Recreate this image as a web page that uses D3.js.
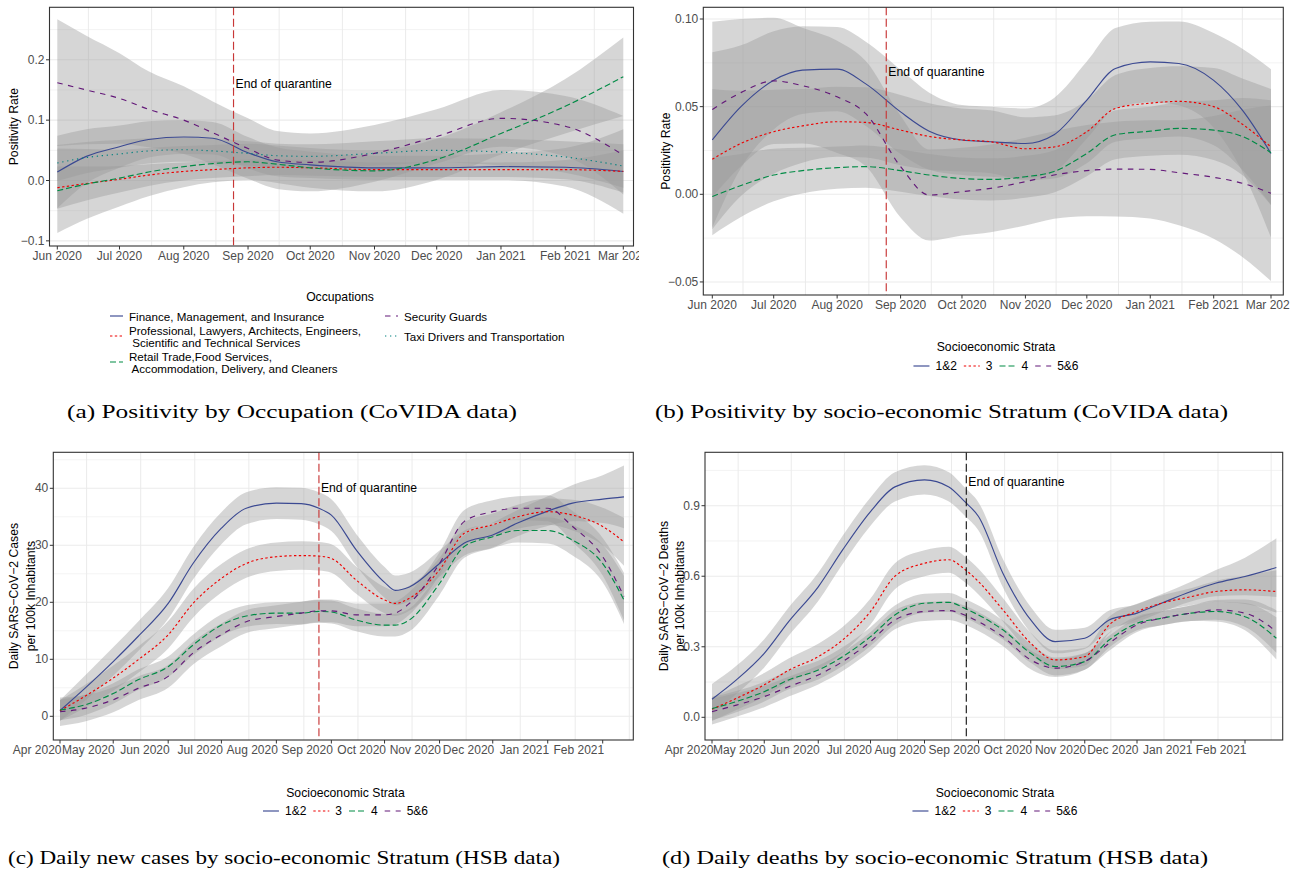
<!DOCTYPE html>
<html>
<head>
<meta charset="utf-8">
<script src="https://cdn.jsdelivr.net/npm/d3@7/dist/d3.min.js"></script>
<style>
  body { margin: 0; background: #fff; }
  text { font-family: "Liberation Sans", Arial, sans-serif; }
  .cap { font-family: "Liberation Serif", "DejaVu Serif", serif; }
</style>
</head>
<body>
<svg id="fig" width="1304" height="872"></svg>
<script>
const parseDay = d3.timeParse("%Y-%m-%d");
const quarantineEnd = "2020-08-25";

////////// (a) positivity by occupation //////////
const occDates = ["2020-06-01","2020-06-15","2020-07-01","2020-07-15","2020-08-01","2020-08-15","2020-09-01",
    "2020-09-15","2020-10-01","2020-11-01","2020-12-01","2021-01-01","2021-02-01","2021-03-01"];
const financeFit = [0.014, 0.040, 0.056, 0.068, 0.072, 0.070, 0.046, 0.031, 0.026, 0.021, 0.021, 0.023, 0.022, 0.015];
const financeBand = [0.060, 0.045, 0.035, 0.030, 0.028, 0.027, 0.026, 0.024, 0.022, 0.020, 0.020, 0.022, 0.032, 0.070];
const professionalFit = [-0.012, -0.005, 0.002, 0.009, 0.015, 0.018, 0.021, 0.022, 0.021, 0.018, 0.018, 0.018, 0.018, 0.015];
const professionalBand = [0.035, 0.028, 0.022, 0.018, 0.015, 0.014, 0.014, 0.013, 0.013, 0.012, 0.012, 0.012, 0.016, 0.035];
const retailFit = [-0.017, -0.006, 0.004, 0.014, 0.023, 0.028, 0.031, 0.027, 0.021, 0.016, 0.035, 0.078, 0.123, 0.172];
const retailBand = [0.070, 0.058, 0.047, 0.040, 0.034, 0.031, 0.030, 0.031, 0.033, 0.034, 0.034, 0.035, 0.045, 0.065];
const securityFit = [0.162, 0.150, 0.136, 0.118, 0.100, 0.079, 0.053, 0.034, 0.030, 0.045, 0.073, 0.103, 0.090, 0.042];
const securityBand = [0.105, 0.090, 0.075, 0.063, 0.056, 0.052, 0.050, 0.048, 0.048, 0.047, 0.045, 0.047, 0.050, 0.065];
const taxiFit = [0.029, 0.038, 0.044, 0.049, 0.051, 0.049, 0.045, 0.041, 0.040, 0.045, 0.050, 0.047, 0.039, 0.024];
const taxiBand = [0.030, 0.026, 0.023, 0.021, 0.020, 0.020, 0.020, 0.020, 0.020, 0.020, 0.020, 0.022, 0.026, 0.036];
const occLabels = [
    ["Finance, Management, and Insurance"],
    ["Professional, Lawyers, Architects, Engineers,", " Scientific and Technical Services"],
    ["Retail Trade,Food Services,", " Accommodation, Delivery, and Cleaners"],
    ["Security Guards"],
    ["Taxi Drivers and Transportation"]
];
const covidaTicks = ["2020-06-01","2020-07-01","2020-08-01","2020-09-01","2020-10-01","2020-11-01",
    "2020-12-01","2021-01-01","2021-02-01","2021-03-01"];

////////// (b) positivity by stratum //////////
const posDates = ["2020-06-01","2020-06-15","2020-07-01","2020-07-15","2020-08-01","2020-08-15","2020-09-01",
    "2020-09-15","2020-10-01","2020-10-15","2020-11-01","2020-11-15","2020-12-01","2020-12-15","2021-01-01",
    "2021-01-15","2021-02-01","2021-02-15","2021-03-01"];
const pos12Fit = [0.031, 0.050, 0.065, 0.0708, 0.0714, 0.063, 0.047, 0.036, 0.031, 0.030, 0.029, 0.034, 0.0537, 0.0718, 0.0755, 0.0746, 0.065, 0.048, 0.0233];
const pos12Band = [0.050, 0.035, 0.028, 0.025, 0.024, 0.024, 0.024, 0.022, 0.020, 0.020, 0.020, 0.021, 0.022, 0.023, 0.023, 0.024, 0.027, 0.035, 0.048];
const pos3Fit = [0.020, 0.029, 0.0357, 0.039, 0.0414, 0.041, 0.0366, 0.033, 0.031, 0.030, 0.026, 0.027, 0.0357, 0.049, 0.052, 0.053, 0.050, 0.040, 0.027];
const pos3Band = [0.040, 0.030, 0.024, 0.021, 0.020, 0.020, 0.020, 0.019, 0.018, 0.018, 0.018, 0.018, 0.018, 0.019, 0.020, 0.020, 0.022, 0.026, 0.033];
const pos4Fit = [-0.0013, 0.005, 0.011, 0.0135, 0.0152, 0.0158, 0.0135, 0.011, 0.009, 0.0085, 0.010, 0.013, 0.0233, 0.034, 0.036, 0.0376, 0.0366, 0.033, 0.0237];
const pos4Band = [0.022, 0.018, 0.015, 0.013, 0.012, 0.012, 0.012, 0.012, 0.012, 0.012, 0.012, 0.012, 0.013, 0.014, 0.014, 0.015, 0.017, 0.022, 0.030];
const pos56Fit = [0.0484, 0.058, 0.0647, 0.062, 0.0556, 0.046, 0.0158, -0.0004, 0.0015, 0.0034, 0.0072, 0.011, 0.0135, 0.0144, 0.0142, 0.0123, 0.0097, 0.0063, 0.0006];
const pos56Band = [0.050, 0.042, 0.036, 0.033, 0.032, 0.030, 0.029, 0.026, 0.025, 0.025, 0.025, 0.025, 0.026, 0.027, 0.028, 0.030, 0.035, 0.042, 0.050];

////////// (c) daily cases by stratum //////////
const caseDates = ["2020-04-01","2020-04-15","2020-05-01","2020-05-15","2020-06-01","2020-06-15","2020-07-01",
    "2020-07-15","2020-08-01","2020-08-15","2020-08-25","2020-09-01","2020-09-15","2020-10-01","2020-10-07",
    "2020-10-15","2020-11-01","2020-11-15","2020-12-01","2020-12-15","2021-01-01","2021-01-15","2021-02-01","2021-02-13"];
const cases12Fit = [1.0, 4.9, 9.6, 14.0, 19.8, 26.8, 33.0, 36.5, 37.4, 37.3, 36.5, 35.3, 29.2, 23.5, 22.1, 22.7, 26.8, 30.4, 31.8, 33.9, 36.0, 37.4, 38.1, 38.5];
const cases12Band = [1.8, 2.2, 2.5, 2.6, 2.7, 2.8, 2.8, 2.8, 2.8, 2.8, 2.8, 2.8, 2.8, 2.7, 2.6, 2.5, 2.3, 2.2, 2.2, 2.3, 2.6, 3.2, 4.2, 5.5];
const cases3Fit = [1.0, 3.5, 6.7, 9.9, 14.3, 19.8, 24.2, 26.8, 28.0, 28.2, 28.1, 27.7, 23.9, 20.4, 19.8, 20.7, 25.7, 32.1, 33.6, 35.0, 35.9, 35.3, 33.3, 30.6];
const cases3Band = [1.8, 2.0, 2.2, 2.3, 2.4, 2.5, 2.5, 2.5, 2.5, 2.5, 2.5, 2.5, 2.4, 2.3, 2.2, 2.2, 2.1, 2.0, 2.0, 2.1, 2.3, 2.7, 3.3, 4.2];
const cases4Fit = [1.1, 2.0, 4.0, 6.4, 8.7, 12.5, 16.0, 17.6, 18.1, 18.1, 18.4, 18.3, 16.9, 16.0, 16.0, 16.9, 23.3, 29.8, 31.5, 32.6, 32.6, 30.9, 26.8, 20.4];
const cases4Band = [1.8, 1.8, 1.8, 1.8, 1.8, 1.8, 1.9, 1.9, 1.9, 2.0, 2.0, 2.0, 2.0, 2.0, 2.0, 2.0, 2.0, 2.0, 2.0, 2.1, 2.3, 2.7, 3.3, 4.2];
const cases56Fit = [0.8, 1.4, 2.9, 4.9, 7.0, 11.1, 14.3, 16.6, 17.5, 18.1, 18.5, 18.5, 17.8, 17.8, 18.1, 19.8, 26.8, 34.2, 35.9, 36.5, 36.5, 33.3, 28.0, 21.0];
const cases56Band = [2.5, 2.3, 2.2, 2.1, 2.0, 2.0, 2.0, 2.0, 2.0, 2.0, 2.0, 2.0, 2.0, 2.0, 2.0, 2.0, 2.0, 2.0, 2.0, 2.1, 2.3, 2.7, 3.3, 4.2];

////////// (d) daily deaths by stratum //////////
const deathDates = ["2020-04-01","2020-04-15","2020-05-01","2020-05-15","2020-06-01","2020-06-15","2020-07-01",
    "2020-07-15","2020-08-01","2020-08-15","2020-08-24","2020-09-01","2020-09-15","2020-10-01","2020-10-15",
    "2020-11-01","2020-11-15","2020-12-01","2020-12-15","2021-01-01","2021-01-15","2021-02-01","2021-02-19"];
const deaths12Fit = [0.077, 0.159, 0.272, 0.407, 0.555, 0.712, 0.875, 0.980, 1.010, 0.980, 0.918, 0.854, 0.613, 0.414, 0.322, 0.336, 0.414, 0.443, 0.485, 0.535, 0.570, 0.599, 0.637];
const deaths12Band = [0.065, 0.060, 0.060, 0.060, 0.060, 0.060, 0.060, 0.062, 0.062, 0.062, 0.060, 0.060, 0.060, 0.055, 0.050, 0.045, 0.040, 0.038, 0.038, 0.042, 0.055, 0.080, 0.125];
const deaths3Fit = [0.034, 0.081, 0.138, 0.200, 0.258, 0.329, 0.450, 0.600, 0.655, 0.670, 0.630, 0.577, 0.457, 0.315, 0.244, 0.258, 0.393, 0.450, 0.485, 0.513, 0.535, 0.542, 0.535];
const deaths3Band = [0.050, 0.050, 0.050, 0.050, 0.055, 0.055, 0.055, 0.055, 0.055, 0.055, 0.055, 0.055, 0.050, 0.045, 0.040, 0.038, 0.035, 0.033, 0.033, 0.036, 0.045, 0.060, 0.090];
const deaths4Fit = [0.037, 0.067, 0.109, 0.159, 0.201, 0.258, 0.343, 0.435, 0.485, 0.489, 0.464, 0.435, 0.372, 0.272, 0.216, 0.237, 0.329, 0.400, 0.421, 0.443, 0.450, 0.428, 0.336];
const deaths4Band = [0.050, 0.045, 0.042, 0.040, 0.040, 0.040, 0.040, 0.040, 0.040, 0.040, 0.040, 0.040, 0.040, 0.040, 0.038, 0.035, 0.032, 0.030, 0.030, 0.033, 0.042, 0.058, 0.090];
const deaths56Fit = [0.024, 0.052, 0.088, 0.130, 0.180, 0.237, 0.322, 0.414, 0.450, 0.454, 0.435, 0.407, 0.343, 0.244, 0.209, 0.237, 0.315, 0.393, 0.421, 0.443, 0.457, 0.443, 0.365];
const deaths56Band = [0.055, 0.050, 0.045, 0.042, 0.040, 0.040, 0.040, 0.040, 0.040, 0.040, 0.040, 0.040, 0.040, 0.040, 0.038, 0.035, 0.032, 0.030, 0.030, 0.033, 0.042, 0.058, 0.090];

const strataLabels = ["1&2", "3", "4", "5&6"];
const hsbTicks = ["2020-04-01","2020-05-01","2020-06-01","2020-07-01","2020-08-01","2020-09-01","2020-10-01",
    "2020-11-01","2020-12-01","2021-01-01","2021-02-01"];

const palette = ["#3B4992", "#EE0000", "#008B45", "#631879", "#008280"];
const dashes = [null, "2.4,2.4", "6,3", "5.5,5.5", "1.3,3.7"];

const svg = d3.select("#fig");
const fmtMonth = d3.timeFormat("%b %Y");

function drawPanel(p) {
    const g = svg.append("g");
    if (p.clip) {
        svg.append("clipPath").attr("id", "clip" + p.id)
            .append("rect")
            .attr("x", p.clip[0]).attr("y", p.clip[1])
            .attr("width", p.clip[2]).attr("height", p.clip[3]);
        g.attr("clip-path", "url(#clip" + p.id + ")");
    }
    const [fx0, fx1, fy0, fy1] = p.frame;
    const ticks = p.ticks.map(parseDay);
    const x = d3.scaleTime()
        .domain([ticks[0], ticks[ticks.length - 1]])
        .range(p.tickPx);
    const y = d3.scaleLinear().domain(p.yRef).range(p.yPx);

    // grid: horizontal major + minor, vertical only at mid-month
    const grid = g.append("g").attr("stroke", "#ebebeb");
    grid.selectAll(".hmin").data(p.yMinor).join("line")
        .attr("x1", fx0).attr("x2", fx1).attr("y1", y).attr("y2", y)
        .attr("stroke-width", 0.6);
    grid.selectAll(".hmaj").data(p.yMajor).join("line")
        .attr("x1", fx0).attr("x2", fx1).attr("y1", y).attr("y2", y)
        .attr("stroke-width", 1.1);
    const step = (+ticks[1] - +ticks[0]) / 2;
    let mids = [];
    for (let i = 0; i < ticks.length - 1; i++) mids.push(new Date((+ticks[i] + +ticks[i + 1]) / 2));
    mids.push(new Date(+ticks[ticks.length - 1] + step));
    mids = mids.filter(d => x(d) > fx0 && x(d) < fx1);
    grid.selectAll(".vmin").data(mids).join("line")
        .attr("x1", x).attr("x2", x).attr("y1", fy0).attr("y2", fy1)
        .attr("stroke-width", 1.0);

    // smooth ribbons
    const dates = p.dates.map(parseDay);
    p.series.forEach(s => {
        const rows = dates.map((d, i) => ({d: d, fit: s.fit[i], lo: s.fit[i] - s.band[i], hi: s.fit[i] + s.band[i]}));
        g.append("path")
            .datum(rows)
            .attr("fill", "#999999")
            .attr("fill-opacity", 0.4)
            .attr("d", d3.area()
                .curve(d3.curveMonotoneX)
                .x(r => x(r.d)).y0(r => y(r.lo)).y1(r => y(r.hi)));
    });
    p.series.forEach(s => {
        const rows = dates.map((d, i) => ({d: d, fit: s.fit[i]}));
        g.append("path")
            .datum(rows)
            .attr("fill", "none")
            .attr("stroke", palette[s.k])
            .attr("stroke-width", 1.15)
            .attr("stroke-dasharray", dashes[s.k])
            .attr("d", d3.line()
                .curve(d3.curveMonotoneX)
                .x(r => x(r.d)).y(r => y(r.fit)));
    });

    // end of quarantine
    const q = parseDay(quarantineEnd);
    g.append("line")
        .attr("x1", x(q)).attr("x2", x(q)).attr("y1", fy0).attr("y2", fy1)
        .attr("stroke", p.vColor)
        .attr("stroke-width", 1.15)
        .attr("stroke-dasharray", "8,3.5");
    g.append("text")
        .attr("x", x(q) + 2)
        .attr("y", y(p.noteY))
        .attr("dominant-baseline", "central")
        .attr("font-size", 12.2)
        .attr("fill", "#000")
        .text("End of quarantine");

    // frame
    g.append("rect")
        .attr("x", fx0).attr("y", fy0)
        .attr("width", fx1 - fx0).attr("height", fy1 - fy0)
        .attr("fill", "none")
        .attr("stroke", "#333333")
        .attr("stroke-width", 1.1);

    // x axis
    g.selectAll(".xt").data(ticks).join("line")
        .attr("x1", x).attr("x2", x).attr("y1", fy1).attr("y2", fy1 + 3.5)
        .attr("stroke", "#333333").attr("stroke-width", 1);
    g.selectAll(".xl").data(ticks).join("text")
        .attr("x", d => x(d) + (p.xAnchor === "end" ? 1.5 : 0))
        .attr("y", fy1 + 9.5)
        .attr("text-anchor", p.xAnchor)
        .attr("dominant-baseline", "central")
        .attr("font-size", 12)
        .attr("fill", "#4d4d4d")
        .text(fmtMonth);

    // y axis
    const fmtY = d3.format(p.yFmt);
    g.selectAll(".yt").data(p.yMajor).join("line")
        .attr("x1", fx0 - 3.5).attr("x2", fx0).attr("y1", y).attr("y2", y)
        .attr("stroke", "#333333").attr("stroke-width", 1);
    g.selectAll(".yl").data(p.yMajor).join("text")
        .attr("x", fx0 - 5)
        .attr("y", y)
        .attr("text-anchor", "end")
        .attr("dominant-baseline", "central")
        .attr("font-size", 12)
        .attr("fill", "#4d4d4d")
        .text(fmtY);

    const cy = (fy0 + fy1) / 2;
    p.ylab.forEach((t, i) => {
        g.append("text")
            .attr("transform", "translate(" + p.ylabX[i] + "," + cy + ") rotate(-90)")
            .attr("text-anchor", "middle")
            .attr("dominant-baseline", "central")
            .attr("font-size", 12.2)
            .attr("fill", "#000")
            .text(t);
    });
}

function keyLine(g, k, x0, x1, yy) {
    g.append("line")
        .attr("x1", x0).attr("x2", x1).attr("y1", yy).attr("y2", yy)
        .attr("stroke", palette[k])
        .attr("stroke-width", 1.15)
        .attr("stroke-dasharray", dashes[k]);
}

function strataLegend(cx, ty, iy) {
    const g = svg.append("g");
    g.append("text")
        .attr("x", cx).attr("y", ty)
        .attr("text-anchor", "middle").attr("dominant-baseline", "central")
        .attr("font-size", 12.2).text("Socioeconomic Strata");
    const items = g.append("g");
    let cur = 0;
    strataLabels.forEach((lab, k) => {
        keyLine(items, k, cur, cur + 16, iy);
        const t = items.append("text")
            .attr("x", cur + 22).attr("y", iy)
            .attr("dominant-baseline", "central")
            .attr("font-size", 12).text(lab);
        cur += 22 + t.node().getComputedTextLength() + 7;
    });
    const w = cur - 7;
    items.attr("transform", "translate(" + (cx - w / 2) + ",0)");
}

drawPanel({
    id: "a", frame: [49.5, 633.5, 7.3, 246],
    ticks: covidaTicks, tickPx: [57.3, 623.3], xAnchor: "middle",
    yRef: [0, 0.2], yPx: [180.5, 59.8],
    yMajor: [-0.1, 0, 0.1, 0.2], yMinor: [-0.05, 0.05, 0.15, 0.25], yFmt: ".1f",
    dates: occDates,
    series: [
        {fit: financeFit, band: financeBand, k: 0},
        {fit: professionalFit, band: professionalBand, k: 1},
        {fit: retailFit, band: retailBand, k: 2},
        {fit: securityFit, band: securityBand, k: 3},
        {fit: taxiFit, band: taxiBand, k: 4}
    ],
    vColor: "#C83737", noteY: 0.16,
    ylab: ["Positivity Rate"], ylabX: [14],
    clip: [0, 0, 639, 430]
});

drawPanel({
    id: "b", frame: [703.3, 1283.3, 7.3, 295],
    ticks: covidaTicks, tickPx: [712.3, 1271], xAnchor: "middle",
    yRef: [0, 0.1], yPx: [194.3, 19],
    yMajor: [-0.05, 0, 0.05, 0.1], yMinor: [-0.025, 0.025, 0.075], yFmt: ".2f",
    dates: posDates,
    series: [
        {fit: pos12Fit, band: pos12Band, k: 0},
        {fit: pos3Fit, band: pos3Band, k: 1},
        {fit: pos4Fit, band: pos4Band, k: 2},
        {fit: pos56Fit, band: pos56Band, k: 3}
    ],
    vColor: "#C83737", noteY: 0.07,
    ylab: ["Positivity Rate"], ylabX: [666],
    clip: [645, 0, 645, 430]
});

drawPanel({
    id: "c", frame: [53.3, 633.3, 452.3, 740],
    ticks: hsbTicks, tickPx: [60, 602.7], xAnchor: "end",
    yRef: [0, 40], yPx: [716.3, 488.3],
    yMajor: [0, 10, 20, 30, 40], yMinor: [5, 15, 25, 35, 45], yFmt: "d",
    dates: caseDates,
    series: [
        {fit: cases12Fit, band: cases12Band, k: 0},
        {fit: cases3Fit, band: cases3Band, k: 1},
        {fit: cases4Fit, band: cases4Band, k: 2},
        {fit: cases56Fit, band: cases56Band, k: 3}
    ],
    vColor: "#C83737", noteY: 40,
    ylab: ["Daily SARS\u2212CoV\u22122 Cases", "per 100k Inhabitants"], ylabX: [14.3, 30.7]
});

drawPanel({
    id: "d", frame: [705, 1282.7, 452.3, 740],
    ticks: hsbTicks, tickPx: [712, 1245], xAnchor: "end",
    yRef: [0, 0.9], yPx: [717.3, 505.7],
    yMajor: [0, 0.3, 0.6, 0.9], yMinor: [0.15, 0.45, 0.75, 1.05], yFmt: ".1f",
    dates: deathDates,
    series: [
        {fit: deaths12Fit, band: deaths12Band, k: 0},
        {fit: deaths3Fit, band: deaths3Band, k: 1},
        {fit: deaths4Fit, band: deaths4Band, k: 2},
        {fit: deaths56Fit, band: deaths56Band, k: 3}
    ],
    vColor: "#1a1a1a", noteY: 1.0,
    ylab: ["Daily SARS\u2212CoV\u22122 Deaths", "per 100k Inhabitants"], ylabX: [664.3, 680]
});

////////// legends //////////
const occLeg = svg.append("g");
occLeg.append("text")
    .attr("x", 340).attr("y", 297)
    .attr("text-anchor", "middle").attr("dominant-baseline", "central")
    .attr("font-size", 12.2).text("Occupations");
const occKeyX = [110, 110, 110, 385, 385];
const occKeyY = [316, 336, 362, 316, 336];
occLabels.forEach((lines, k) => {
    keyLine(occLeg, k, occKeyX[k], occKeyX[k] + 13, occKeyY[k]);
    lines.forEach((t, j) => {
        occLeg.append("text")
            .attr("x", occKeyX[k] + 19)
            .attr("y", occKeyY[k] + (j - (lines.length - 1) / 2) * 12)
            .attr("dominant-baseline", "central")
            .attr("font-size", 11.6)
            .style("white-space", "pre")
            .text(t);
    });
});

strataLegend(996, 347, 366);
strataLegend(345.5, 793, 811);
strataLegend(995, 793, 811);

////////// captions //////////
const captions = [
    {t: "(a) Positivity by Occupation (CoVIDA data)", x: 67, w: 450, y: 418},
    {t: "(b) Positivity by socio-economic Stratum (CoVIDA data)", x: 655, w: 573, y: 418},
    {t: "(c) Daily new cases by socio-economic Stratum (HSB data)", x: 8, w: 552, y: 864},
    {t: "(d) Daily deaths by socio-economic Stratum (HSB data)", x: 662, w: 546, y: 864}
];
svg.selectAll(".cap").data(captions).join("text")
    .attr("class", "cap")
    .attr("x", d => d.x).attr("y", d => d.y)
    .attr("font-size", 19.5)
    .attr("textLength", d => d.w)
    .attr("lengthAdjust", "spacingAndGlyphs")
    .text(d => d.t);
</script>
</body>
</html>
